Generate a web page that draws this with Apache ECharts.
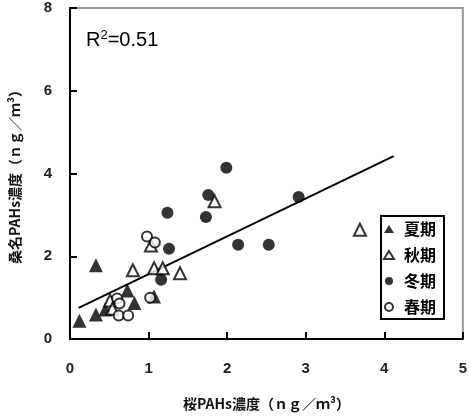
<!DOCTYPE html>
<html>
<head>
<meta charset="utf-8">
<script src="https://cdn.jsdelivr.net/npm/echarts@6/dist/echarts.min.js"></script>
<style>
  html, body { margin: 0; padding: 0; background: #fff; }
  #chart { width: 470px; height: 416px; }
</style>
</head>
<body>
<div id="chart"></div>
<script>
// data
var seriesNames = ["夏期", "秋期", "冬期", "春期"];
var summer = [[0.12, 0.44], [0.33, 0.59], [0.33, 1.78], [0.45, 0.71], [0.73, 1.17], [0.82, 0.87], [1.07, 1.03]];
var autumn = [[0.51, 0.93], [0.54, 0.73], [0.80, 1.66], [1.03, 2.26], [1.07, 1.71], [1.18, 1.71], [1.40, 1.59], [1.84, 3.33], [3.69, 2.64]];
var winter = [[1.16, 1.43], [1.24, 3.05], [1.26, 2.18], [1.73, 2.95], [1.76, 3.48], [1.99, 4.14], [2.14, 2.28], [2.53, 2.28], [2.91, 3.43]];
var spring = [[0.60, 0.98], [0.63, 0.86], [0.62, 0.57], [0.74, 0.57], [0.98, 2.48], [1.08, 2.33], [1.02, 1.00]];
var trend = [[0.11, 0.75], [4.12, 4.42]];
var r2Text = "0.51";

var labelFont = "Liberation Sans";
var jpFont = "Noto Sans CJK JP";

var chart = echarts.init(document.getElementById("chart"));

function scatter(name, data, symbol, size, filled) {
  return {
    name: name,
    type: "scatter",
    data: data,
    symbol: symbol,
    symbolSize: size,
    itemStyle: filled
      ? { color: "#000", borderColor: "#000", borderWidth: 0 }
      : { color: "#fff", borderColor: "#000", borderWidth: 2 },
    emphasis: { disabled: true },
    z: 3
  };
}

var option = {
  animation: false,
  grid: {
    left: 64, top: 8, width: 400, height: 336,
    show: true, borderColor: "#999", borderWidth: 2, backgroundColor: "#fff"
  },
  xAxis: {
    type: "value", min: 0, max: 5, interval: 1,
    name: "桜PAHs濃度（ｎｇ／ｍ³）", nameLocation: "middle", nameGap: 58,
    nameTextStyle: { color: "#111", fontFamily: jpFont, fontWeight: "bold", fontSize: 14 },
    axisLine: { show: true, lineStyle: { color: "#000", width: 2 } },
    axisTick: { show: true, inside: true, length: 7, lineStyle: { color: "#000", width: 2 } },
    axisLabel: { margin: 22, color: "#222", fontFamily: labelFont, fontWeight: "bold", fontSize: 15 },
    splitLine: { show: false }
  },
  yAxis: {
    type: "value", min: 0, max: 8, interval: 2,
    name: "桑名PAHs濃度（ｎｇ／ｍ³）", nameLocation: "middle", nameGap: 48, nameRotate: 90,
    nameTextStyle: { color: "#111", fontFamily: jpFont, fontWeight: "bold", fontSize: 14 },
    axisLine: { show: true, lineStyle: { color: "#000", width: 2 } },
    axisTick: { show: true, inside: true, length: 7, lineStyle: { color: "#000", width: 2 } },
    axisLabel: { margin: 18, color: "#222", fontFamily: labelFont, fontWeight: "bold", fontSize: 15 },
    splitLine: { show: false }
  },
  legend: {
    orient: "vertical",
    left: 381, top: 216,
    padding: [5, 8, 4, 2],
    itemGap: 10,
    itemWidth: 10, itemHeight: 8,
    borderColor: "#000", borderWidth: 2,
    textStyle: { color: "#000", fontFamily: jpFont, fontWeight: "bold", fontSize: 16, lineHeight: 16, padding: [0, 0, 0, 5] },
    data: seriesNames
  },
  graphic: [{
    type: "text",
    left: 86, top: 29,
    style: {
      text: "{r|R}{s|2}{r|=" + r2Text + "}",
      rich: {
        r: { fontFamily: labelFont, fontSize: 20, fill: "#000", verticalAlign: "bottom" },
        s: { fontFamily: labelFont, fontSize: 13, fill: "#000", verticalAlign: "top", padding: [0, 0, 8, 0] }
      }
    }
  }],
  series: [
    {
      type: "line",
      data: trend,
      symbol: "none",
      lineStyle: { color: "#000", width: 2 },
      silent: true,
      z: 2
    },
    scatter(seriesNames[0], summer, "triangle", 14, true),
    scatter(seriesNames[1], autumn, "triangle", 12, false),
    scatter(seriesNames[2], winter, "circle", 12, true),
    scatter(seriesNames[3], spring, "circle", 10, false)
  ]
};

chart.setOption(option);
</script>
</body>
</html>
